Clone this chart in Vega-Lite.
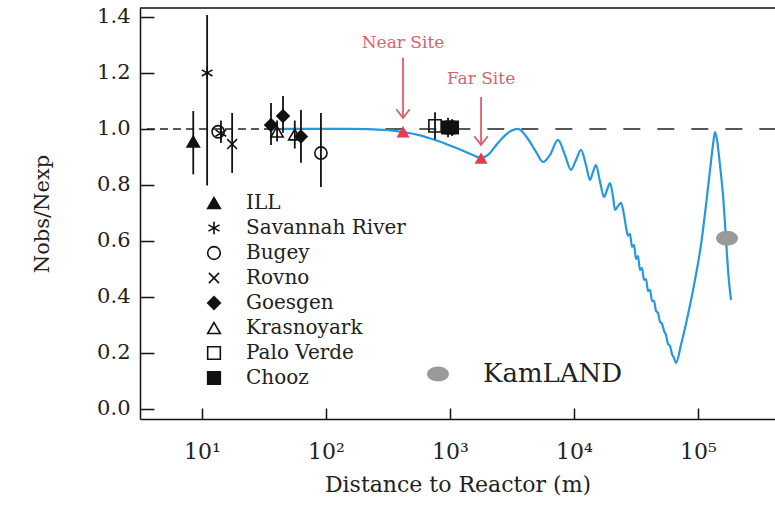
{
  "$schema": "https://vega.github.io/schema/vega-lite/v6.json",
  "width": 635,
  "height": 411,
  "autosize": {"type": "none"},
  "padding": {"left": 140, "top": 8, "right": 0, "bottom": 87},
  "background": "white",
  "config": {
    "view": {"stroke": null},
    "font": "DejaVu Serif",
    "axis": {
      "grid": false,
      "domainColor": "#111",
      "domainWidth": 1.5,
      "tickColor": "#111",
      "tickWidth": 1.5,
      "labelFont": "DejaVu Serif",
      "labelColor": "#222",
      "labelFlush": false,
      "labelOverlap": false,
      "titleFont": "DejaVu Serif",
      "titleFontWeight": "normal",
      "titleColor": "#222"
    }
  },
  "datasets": {
    "pts": [
      {"exp": "ILL", "x": 8.5, "y": 0.955, "lo": 0.838, "hi": 1.064},
      {"exp": "Savannah River", "x": 11, "y": 1.2, "lo": 0.798, "hi": 1.407},
      {"exp": "Savannah River", "x": 14.2, "y": 0.985, "lo": 0.95, "hi": 1.03},
      {"exp": "Bugey", "x": 13.5, "y": 0.99, "lo": null, "hi": null},
      {"exp": "Rovno", "x": 17.5, "y": 0.946, "lo": 0.843, "hi": 1.057},
      {"exp": "Goesgen", "x": 36, "y": 1.014, "lo": 0.943, "hi": 1.093},
      {"exp": "Goesgen", "x": 45, "y": 1.046, "lo": 0.986, "hi": 1.118},
      {"exp": "Goesgen", "x": 62.8, "y": 0.973, "lo": 0.879, "hi": 1.068},
      {"exp": "Bugey", "x": 91, "y": 0.914, "lo": 0.793, "hi": 1.057},
      {"exp": "Krasnoyark", "x": 40.3, "y": 0.99, "lo": 0.955, "hi": 1.03},
      {"exp": "Krasnoyark", "x": 56, "y": 0.98, "lo": 0.93, "hi": 1.03},
      {"exp": "Palo Verde", "x": 757, "y": 1.011, "lo": 0.963, "hi": 1.06},
      {"exp": "Chooz", "x": 964, "y": 1.005, "lo": 0.97, "hi": 1.04},
      {"exp": "Chooz", "x": 1040, "y": 1.005, "lo": 0.975, "hi": 1.035}
    ],
    "curve": [
      {"x": 43.4, "y": 1.0}, {"x": 150, "y": 1.0}, {"x": 316, "y": 0.996}, {"x": 418, "y": 0.989},
      {"x": 552, "y": 0.979}, {"x": 800, "y": 0.957}, {"x": 1161, "y": 0.929}, {"x": 1531, "y": 0.907},
      {"x": 1778, "y": 0.896}, {"x": 2023, "y": 0.907}, {"x": 2437, "y": 0.95}, {"x": 2936, "y": 0.986},
      {"x": 3532, "y": 1.0}, {"x": 4256, "y": 0.964}, {"x": 4943, "y": 0.918}, {"x": 5623, "y": 0.882},
      {"x": 6397, "y": 0.907}, {"x": 7431, "y": 0.961}, {"x": 8453, "y": 0.907}, {"x": 9463, "y": 0.854},
      {"x": 10380, "y": 0.889}, {"x": 11380, "y": 0.925}, {"x": 12500, "y": 0.871}, {"x": 13460, "y": 0.818},
      {"x": 14220, "y": 0.846}, {"x": 15030, "y": 0.871}, {"x": 16220, "y": 0.811}, {"x": 17460, "y": 0.757},
      {"x": 18460, "y": 0.782}, {"x": 19520, "y": 0.807}, {"x": 20650, "y": 0.757}, {"x": 21420, "y": 0.711},
      {"x": 22660, "y": 0.725}, {"x": 23950, "y": 0.736}, {"x": 25320, "y": 0.693}, {"x": 26260, "y": 0.65},
      {"x": 27260, "y": 0.618}, {"x": 28290, "y": 0.625}, {"x": 29360, "y": 0.579}, {"x": 30470, "y": 0.586},
      {"x": 31620, "y": 0.536}, {"x": 32820, "y": 0.546}, {"x": 34070, "y": 0.496}, {"x": 35340, "y": 0.504},
      {"x": 36680, "y": 0.461}, {"x": 38070, "y": 0.464}, {"x": 39530, "y": 0.421}, {"x": 41020, "y": 0.425},
      {"x": 42560, "y": 0.386}, {"x": 44180, "y": 0.386}, {"x": 45850, "y": 0.35}, {"x": 47580, "y": 0.343},
      {"x": 49380, "y": 0.311}, {"x": 51260, "y": 0.304}, {"x": 53190, "y": 0.279}, {"x": 55200, "y": 0.264},
      {"x": 57300, "y": 0.232}, {"x": 59470, "y": 0.225}, {"x": 61710, "y": 0.196}, {"x": 64060, "y": 0.182},
      {"x": 66480, "y": 0.164}, {"x": 72950, "y": 0.229}, {"x": 83030, "y": 0.336}, {"x": 94590, "y": 0.461},
      {"x": 105700, "y": 0.586}, {"x": 116100, "y": 0.729}, {"x": 125000, "y": 0.854}, {"x": 132100, "y": 0.943},
      {"x": 137100, "y": 0.989}, {"x": 142300, "y": 0.961}, {"x": 150400, "y": 0.871}, {"x": 159100, "y": 0.764},
      {"x": 168300, "y": 0.604}, {"x": 174600, "y": 0.496}, {"x": 184600, "y": 0.389}
    ]
  },
  "layer": [
    {
      "data": {"values": [{}]},
      "mark": {"type": "rule", "color": "#111", "strokeWidth": 1.5},
      "encoding": {"y": {"datum": 1.432}}
    },
    {
      "data": {"values": [{}]},
      "mark": {"type": "rule", "color": "#222", "strokeWidth": 1.6, "strokeDash": [8, 5]},
      "encoding": {"x": {"datum": 3.6}, "x2": {"datum": 150}, "y": {"datum": 1}}
    },
    {
      "data": {"values": [{}]},
      "mark": {"type": "rule", "color": "#222", "strokeWidth": 1.6, "strokeDash": [17, 17]},
      "encoding": {"x": {"datum": 160}, "x2": {"datum": 420000}, "y": {"datum": 1}}
    },
    {
      "data": {"name": "curve"},
      "mark": {"type": "line", "color": "#2499dc", "strokeWidth": 2.2, "interpolate": "monotone"},
      "encoding": {
        "x": {"field": "x", "type": "quantitative", "scale": {"type": "log", "domain": [3.162, 417800], "nice": false}},
        "y": {"field": "y", "type": "quantitative", "scale": {"domain": [-0.036, 1.432], "nice": false, "zero": false}}
      }
    },
    {
      "data": {"name": "pts"},
      "transform": [{"filter": "isValid(datum.lo)"}],
      "mark": {"type": "rule", "color": "#111", "strokeWidth": 1.8},
      "encoding": {
        "x": {"field": "x", "type": "quantitative"},
        "y": {"field": "lo", "type": "quantitative"},
        "y2": {"field": "hi"}
      }
    },
    {
      "data": {"name": "pts"},
      "mark": {"type": "point", "filled": true, "strokeWidth": 1.6, "size": 150, "opacity": 1},
      "encoding": {
        "x": {
          "field": "x", "type": "quantitative",
          "scale": {"type": "log", "domain": [3.162, 417800], "nice": false},
          "axis": {
            "values": [10, 100, 1000, 10000, 100000],
            "labelExpr": "'10' + (datum.value == 10 ? '¹' : datum.value == 100 ? '²' : datum.value == 1000 ? '³' : datum.value == 10000 ? '⁴' : '⁵')",
            "tickSize": -11,
            "labelPadding": 33,
            "labelFontSize": 22,
            "title": "Distance to Reactor (m)",
            "titleFontSize": 22,
            "titlePadding": 12
          }
        },
        "y": {
          "field": "y", "type": "quantitative",
          "scale": {"domain": [-0.036, 1.432], "nice": false, "zero": false},
          "axis": {
            "values": [0, 0.2, 0.4, 0.6, 0.8, 1.0, 1.2, 1.4],
            "format": ".1f",
            "tickSize": -14,
            "labelPadding": 24,
            "labelFontSize": 21,
            "title": "Nobs/Nexp",
            "titleFontSize": 21,
            "titlePadding": 44
          }
        },
        "shape": {
          "field": "exp", "type": "nominal",
          "scale": {
            "domain": ["ILL", "Savannah River", "Bugey", "Rovno", "Goesgen", "Krasnoyark", "Palo Verde", "Chooz"],
            "range": ["triangle-up", "M0,-1L0,1M-0.87,-0.5L0.87,0.5M-0.87,0.5L0.87,-0.5", "circle", "M-0.8,-0.8L0.8,0.8M-0.8,0.8L0.8,-0.8", "diamond", "triangle-up", "square", "square"]
          },
          "legend": {
            "title": null, "orient": "none", "legendX": 64, "legendY": 185,
            "labelFont": "DejaVu Serif", "labelFontSize": 20, "labelColor": "#222",
            "symbolSize": 160, "symbolStrokeWidth": 1.6,
            "rowPadding": 5, "labelOffset": 22, "padding": 0, "labelLimit": 400
          }
        },
        "fill": {
          "field": "exp", "type": "nominal",
          "scale": {
            "domain": ["ILL", "Savannah River", "Bugey", "Rovno", "Goesgen", "Krasnoyark", "Palo Verde", "Chooz"],
            "range": ["#111", "#111", "transparent", "#111", "#111", "transparent", "transparent", "#111"]
          },
          "legend": {
            "title": null, "orient": "none", "legendX": 64, "legendY": 185,
            "labelFont": "DejaVu Serif", "labelFontSize": 20, "labelColor": "#222",
            "symbolSize": 160, "symbolStrokeWidth": 1.6,
            "rowPadding": 5, "labelOffset": 22, "padding": 0, "labelLimit": 400
          }
        },
        "stroke": {
          "field": "exp", "type": "nominal",
          "scale": {
            "domain": ["ILL", "Savannah River", "Bugey", "Rovno", "Goesgen", "Krasnoyark", "Palo Verde", "Chooz"],
            "range": ["#111", "#111", "#111", "#111", "#111", "#111", "#111", "#111"]
          },
          "legend": {
            "title": null, "orient": "none", "legendX": 64, "legendY": 185,
            "labelFont": "DejaVu Serif", "labelFontSize": 20, "labelColor": "#222",
            "symbolSize": 160, "symbolStrokeWidth": 1.6,
            "rowPadding": 5, "labelOffset": 22, "padding": 0, "labelLimit": 400
          }
        }
      }
    },
    {
      "data": {"values": [{"x": 418, "top": 1.254, "tip": 1.039}, {"x": 1780, "top": 1.114, "tip": 0.943}]},
      "mark": {"type": "rule", "color": "#e25c6a", "strokeWidth": 1.8},
      "encoding": {
        "x": {"field": "x", "type": "quantitative"},
        "y": {"field": "top", "type": "quantitative"},
        "y2": {"field": "tip"}
      }
    },
    {
      "data": {"values": [{"x": 418, "tip": 1.039}, {"x": 1780, "tip": 0.943}]},
      "mark": {"type": "point", "shape": "M-1,-1.3L0,0L1,-1.3", "filled": false, "stroke": "#e25c6a", "strokeWidth": 1.8, "size": 180, "opacity": 1},
      "encoding": {
        "x": {"field": "x", "type": "quantitative"},
        "y": {"field": "tip", "type": "quantitative"}
      }
    },
    {
      "data": {"values": [{"x": 418, "y": 0.99}, {"x": 1780, "y": 0.896}]},
      "mark": {"type": "point", "shape": "triangle-up", "filled": true, "color": "#e8394d", "size": 170, "opacity": 1},
      "encoding": {
        "x": {"field": "x", "type": "quantitative"},
        "y": {"field": "y", "type": "quantitative"}
      }
    },
    {
      "data": {"values": [{"x": 418, "y": 1.307, "t": "Near Site"}, {"x": 1780, "y": 1.18, "t": "Far Site"}]},
      "mark": {"type": "text", "font": "DejaVu Serif", "fontSize": 17, "color": "#e0606e", "align": "center", "baseline": "middle"},
      "encoding": {
        "x": {"field": "x", "type": "quantitative"},
        "y": {"field": "y", "type": "quantitative"},
        "text": {"field": "t"}
      }
    },
    {
      "data": {"values": [{"x": 800, "y": 0.125}, {"x": 171400, "y": 0.61}]},
      "mark": {"type": "point", "shape": "M-1,0A1,0.68 0 1,0 1,0A1,0.68 0 1,0 -1,0Z", "filled": true, "color": "#9a9a9a", "size": 480, "opacity": 1},
      "encoding": {
        "x": {"field": "x", "type": "quantitative"},
        "y": {"field": "y", "type": "quantitative"}
      }
    },
    {
      "data": {"values": [{"x": 1845, "y": 0.125, "t": "KamLAND"}]},
      "mark": {"type": "text", "font": "DejaVu Serif", "fontSize": 26, "color": "#222", "align": "left", "baseline": "middle"},
      "encoding": {
        "x": {"field": "x", "type": "quantitative"},
        "y": {"field": "y", "type": "quantitative"},
        "text": {"field": "t"}
      }
    }
  ]
}
